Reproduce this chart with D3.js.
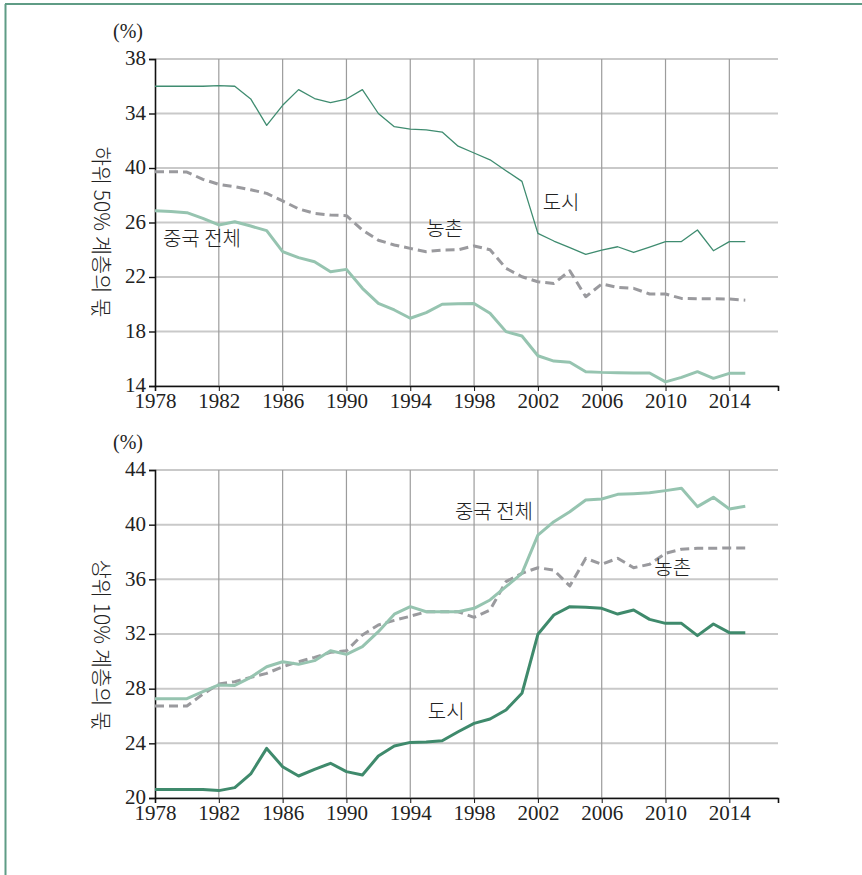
<!DOCTYPE html>
<html>
<head>
<meta charset="utf-8">
<script src="https://cdn.jsdelivr.net/npm/d3@7"></script>
<style>
  body { margin: 0; background: #fff; }
  svg { display: block; }
  .tick text { font-family: "Liberation Serif", "DejaVu Serif", serif; fill: #222; }
  .lbl { font-family: "Noto Sans CJK KR", sans-serif; font-weight: 300; fill: #222; }
</style>
</head>
<body>
<svg id="chart" width="862" height="875"></svg>
<script>
// years shared by all series
var years = d3.range(1978, 2016);
var xTicks = [1978, 1982, 1986, 1990, 1994, 1998, 2002, 2006, 2010, 2014];

// top panel: bottom 50% share
var topTickValues = [38, 34, 30, 26, 22, 18, 14];
var topTickLabels = ["38", "34", "40", "26", "22", "18", "14"];
var topUrban = [36.0, 36.0, 36.0, 36.0, 36.05, 36.0, 35.07, 33.13, 34.6, 35.75, 35.1, 34.8, 35.06, 35.75, 34.0, 33.03,
  32.86, 32.8, 32.64, 31.6, 31.1, 30.6, 29.8, 29.02, 25.2, 24.64, 24.15, 23.66, 23.98, 24.22, 23.8, 24.2,
  24.6, 24.6, 25.45, 23.93, 24.6, 24.6];
var topRural = [29.73, 29.73, 29.7, 29.17, 28.8, 28.63, 28.4, 28.14, 27.58, 27.0, 26.67, 26.55, 26.5, 25.45, 24.7, 24.35,
  24.1, 23.86, 23.98, 24.0, 24.28, 24.0, 22.64, 22.02, 21.65, 21.53, 22.46, 20.55, 21.49, 21.24, 21.17, 20.75,
  20.75, 20.43, 20.4, 20.4, 20.38, 20.3];
var topChina = [26.87, 26.8, 26.72, 26.3, 25.82, 26.06, 25.74, 25.4, 23.86, 23.42, 23.12, 22.39, 22.56, 21.17, 20.07, 19.58,
  18.97, 19.38, 20.0, 20.03, 20.05, 19.34, 17.99, 17.67, 16.22, 15.83, 15.74, 15.05, 15.0, 14.98, 14.96, 14.95,
  14.3, 14.63, 15.05, 14.56, 14.93, 14.93];

// bottom panel: top 10% share
var botTickValues = [44, 40, 36, 32, 28, 24, 20];
var botTickLabels = ["44", "40", "36", "32", "28", "24", "20"];
var botChina = [27.27, 27.27, 27.27, 27.78, 28.27, 28.24, 28.83, 29.6, 29.97, 29.78, 30.05, 30.78, 30.51, 31.07, 32.17, 33.45,
  34.0, 33.63, 33.63, 33.63, 33.88, 34.49, 35.46, 36.44, 39.24, 40.22, 40.95, 41.8, 41.88, 42.22, 42.27, 42.34,
  42.49, 42.66, 41.32, 42.0, 41.15, 41.34];
var botRural = [26.73, 26.73, 26.73, 27.6, 28.34, 28.51, 28.83, 29.12, 29.6, 29.97, 30.29, 30.66, 30.78, 31.93, 32.66, 33.0,
  33.3, 33.63, 33.63, 33.63, 33.22, 33.76, 35.83, 36.44, 36.85, 36.68, 35.51, 37.54, 37.1, 37.54, 36.85, 37.1,
  37.9, 38.2, 38.27, 38.27, 38.3, 38.3];
var botUrban = [20.63, 20.63, 20.63, 20.63, 20.54, 20.76, 21.76, 23.63, 22.29, 21.61, 22.1, 22.54, 21.93, 21.68, 23.07, 23.8,
  24.07, 24.1, 24.19, 24.85, 25.46, 25.78, 26.44, 27.66, 31.98, 33.39, 34.0, 33.95, 33.88, 33.46, 33.76, 33.07,
  32.78, 32.78, 31.88, 32.73, 32.1, 32.1];

var svg = d3.select("#chart");

// frame
svg.append("line").attr("x1", 5).attr("x2", 862).attr("y1", 4).attr("y2", 4)
  .attr("stroke", "#5f9c85").attr("stroke-width", 2);
svg.append("line").attr("x1", 5.5).attr("x2", 5.5).attr("y1", 4).attr("y2", 875)
  .attr("stroke", "#5f9c85").attr("stroke-width", 2);

var x = d3.scaleLinear().domain([1978, 2017.05]).range([155, 778]);

function panel(opts) {
  var y = d3.scaleLinear().domain(opts.domain).range([opts.bottom, opts.top]);
  var g = svg.append("g");

  // horizontal grid
  g.append("g").selectAll("line").data(opts.ticks).enter().append("line")
    .attr("x1", x(1978)).attr("x2", x(2017.05))
    .attr("y1", function(d) { return y(d); }).attr("y2", function(d) { return y(d); })
    .attr("stroke", "#c9c9c9").attr("stroke-width", 2);
  // vertical grid
  g.append("g").selectAll("line").data(xTicks.slice(1)).enter().append("line")
    .attr("x1", function(d) { return x(d); }).attr("x2", function(d) { return x(d); })
    .attr("y1", opts.top).attr("y2", opts.bottom)
    .attr("stroke", "#9c9c9c").attr("stroke-width", 1.2);

  // axes
  var yAxis = d3.axisLeft(y).tickValues(opts.ticks).tickSize(6).tickPadding(3)
    .tickFormat(function(d, i) { return opts.labels[i]; });
  var ya = g.append("g").attr("transform", "translate(" + x(1978) + ",0)").call(yAxis);
  ya.select(".domain").attr("stroke", "#111").attr("stroke-width", 1.6);
  ya.selectAll(".tick line").attr("stroke", "#111").attr("stroke-width", 1.4);
  ya.selectAll(".tick text").style("font-size", "21px").attr("dy", "0.28em");

  var xAxis = d3.axisBottom(x).tickValues(xTicks).tickSize(5).tickPadding(0).tickFormat(d3.format("d"));
  var xa = g.append("g").attr("transform", "translate(0," + opts.bottom + ")").call(xAxis);
  xa.select(".domain").attr("stroke", "#111").attr("stroke-width", 1.6);
  xa.selectAll(".tick line").attr("stroke", "#111").attr("stroke-width", 1);
  xa.selectAll(".tick text").style("font-size", "21px").attr("dy", "0.82em");

  // unit
  g.append("text").attr("x", 128).attr("y", opts.top - 21).attr("text-anchor", "middle")
    .style("font-family", "'Liberation Serif', serif").style("font-size", "20px").attr("fill", "#222").text("(%)");

  // y title
  g.append("text").attr("class", "lbl")
    .attr("transform", "translate(94," + opts.titleY + ") rotate(90)")
    .attr("text-anchor", "middle").style("font-size", "21px").text(opts.title);

  var line = d3.line().x(function(d, i) { return x(years[i]); }).y(function(d) { return y(d); });

  opts.series.forEach(function(s) {
    g.append("path").datum(s.values).attr("d", line)
      .attr("fill", "none").attr("stroke", s.color).attr("stroke-width", s.width)
      .attr("stroke-dasharray", s.dash || null).attr("stroke-linejoin", "round");
  });

  opts.notes.forEach(function(n) {
    g.append("text").attr("class", "lbl").attr("x", x(n.year)).attr("y", y(n.value))
      .style("font-size", "20px").text(n.text);
  });
}

panel({
  domain: [14, 38], top: 59, bottom: 386, titleY: 232,
  ticks: topTickValues, labels: topTickLabels, title: "하위 50% 계층의 몫",
  series: [
    { values: topRural, color: "#9a9a9e", width: 3, dash: "9,5" },
    { values: topChina, color: "#96c4b0", width: 3 },
    { values: topUrban, color: "#3f8c70", width: 1.3 }
  ],
  notes: [
    { text: "도시", year: 2002.3, value: 26.9 },
    { text: "농촌", year: 1995.0, value: 25.0 },
    { text: "중국 전체", year: 1978.5, value: 24.3 }
  ]
});

panel({
  domain: [20, 44], top: 470, bottom: 798, titleY: 645,
  ticks: botTickValues, labels: botTickLabels, title: "상위 10% 계층의 몫",
  series: [
    { values: botRural, color: "#9a9a9e", width: 3, dash: "9,5" },
    { values: botChina, color: "#96c4b0", width: 3 },
    { values: botUrban, color: "#3f8a6c", width: 3 }
  ],
  notes: [
    { text: "중국 전체", year: 1996.8, value: 40.4 },
    { text: "농촌", year: 2009.3, value: 36.3 },
    { text: "도시", year: 1995.1, value: 25.8 }
  ]
});
</script>
</body>
</html>
